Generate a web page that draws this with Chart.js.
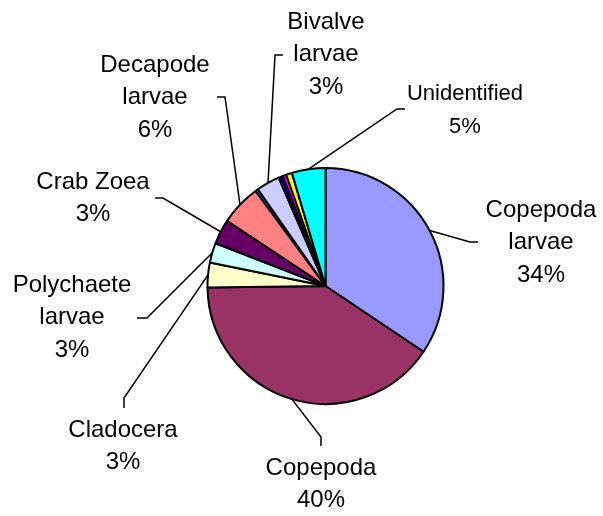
<!DOCTYPE html>
<html>
<head>
<meta charset="utf-8">
<script src="https://cdn.jsdelivr.net/npm/chart.js@4/dist/chart.umd.min.js"></script>
<style>
  body { margin: 0; background: #fff; }
  #wrap { width: 603px; height: 516px; }
</style>
</head>
<body>
<div id="wrap"><canvas id="pie"></canvas></div>
<script>
  // composition by group, share of total (%)
  const groups = [
    'Copepoda\nlarvae', 'Copepoda', 'Cladocera', 'Polychaete\nlarvae', 'Crab Zoea',
    'Decapode\nlarvae', '', 'Bivalve\nlarvae', '', '', '', 'Unidentified'
  ];
  const shares = [34.4, 40.4, 3.4, 2.7, 3.4, 5.6, 0.4, 3.2, 0.6, 0.5, 0.8, 4.6];
  const sliceColors = [
    '#9999FF', '#993366', '#FFFFCC', '#CCFFFF', '#660066', '#FF8080',
    '#0066CC', '#CCCCFF', '#000080', '#FF00FF', '#FFFF00', '#00FFFF'
  ];

  // where each label sits: text centre (first line), leader elbow, leader end
  const labelSpots = {
    0:  { x: 541, y: 210, elbow: [470, 242], end: [478, 242] },
    1:  { x: 321, y: 468, elbow: [321, 437], end: [321, 446] },
    2:  { x: 123, y: 430, elbow: [124, 398], end: [124, 408] },
    3:  { x: 72,  y: 285, elbow: [147, 318], end: [137, 318] },
    4:  { x: 93,  y: 182, elbow: [163, 198], end: [155, 198] },
    5:  { x: 155, y: 65,  elbow: [225, 97],  end: [217, 97] },
    7:  { x: 326, y: 22,  elbow: [275, 55],  end: [283, 55] },
    11: { x: 465, y: 94,  elbow: [397, 109], end: [405, 109], size: 22 }
  };

  const total = shares.reduce((a, b) => a + b, 0);

  // leader lines + multi-line labels, like the old spreadsheet charts
  const leaderLabels = {
    id: 'leaderLabels',
    afterDraw(chart) {
      const ctx = chart.ctx;
      const arcs = chart.getDatasetMeta(0).data;
      ctx.save();
      arcs.forEach(function (arc, i) {
        const spot = labelSpots[i];
        if (!spot || !groups[i]) return;
        const p = arc.getProps(['x', 'y', 'startAngle', 'endAngle', 'outerRadius'], true);
        const mid = (p.startAngle + p.endAngle) / 2;
        const sx = p.x + Math.cos(mid) * p.outerRadius;
        const sy = p.y + Math.sin(mid) * p.outerRadius;

        ctx.strokeStyle = '#000';
        ctx.lineWidth = 1.5;
        ctx.beginPath();
        ctx.moveTo(sx, sy);
        ctx.lineTo(spot.elbow[0], spot.elbow[1]);
        ctx.lineTo(spot.end[0], spot.end[1]);
        ctx.stroke();

        const lines = groups[i].split('\n');
        lines.push(Math.round(shares[i] / total * 100) + '%');
        ctx.fillStyle = '#000';
        ctx.font = (spot.size || 24) + 'px "Liberation Sans", Arial, sans-serif';
        ctx.textAlign = 'center';
        ctx.textBaseline = 'middle';
        lines.forEach(function (txt, k) {
          ctx.fillText(txt, spot.x, spot.y + k * 32.5);
        });
      });
      ctx.restore();
    }
  };

  new Chart(document.getElementById('pie'), {
    type: 'pie',
    data: {
      labels: groups,
      datasets: [{
        data: shares,
        backgroundColor: sliceColors,
        borderColor: '#000',
        borderWidth: 2,
        hoverOffset: 0
      }]
    },
    options: {
      responsive: true,
      maintainAspectRatio: false,
      animation: false,
      events: [],
      layout: { padding: { left: 206.5, right: 158.5, top: 167, bottom: 111 } },
      plugins: {
        legend: { display: false },
        tooltip: { enabled: false }
      }
    },
    plugins: [leaderLabels]
  });
</script>
</body>
</html>
